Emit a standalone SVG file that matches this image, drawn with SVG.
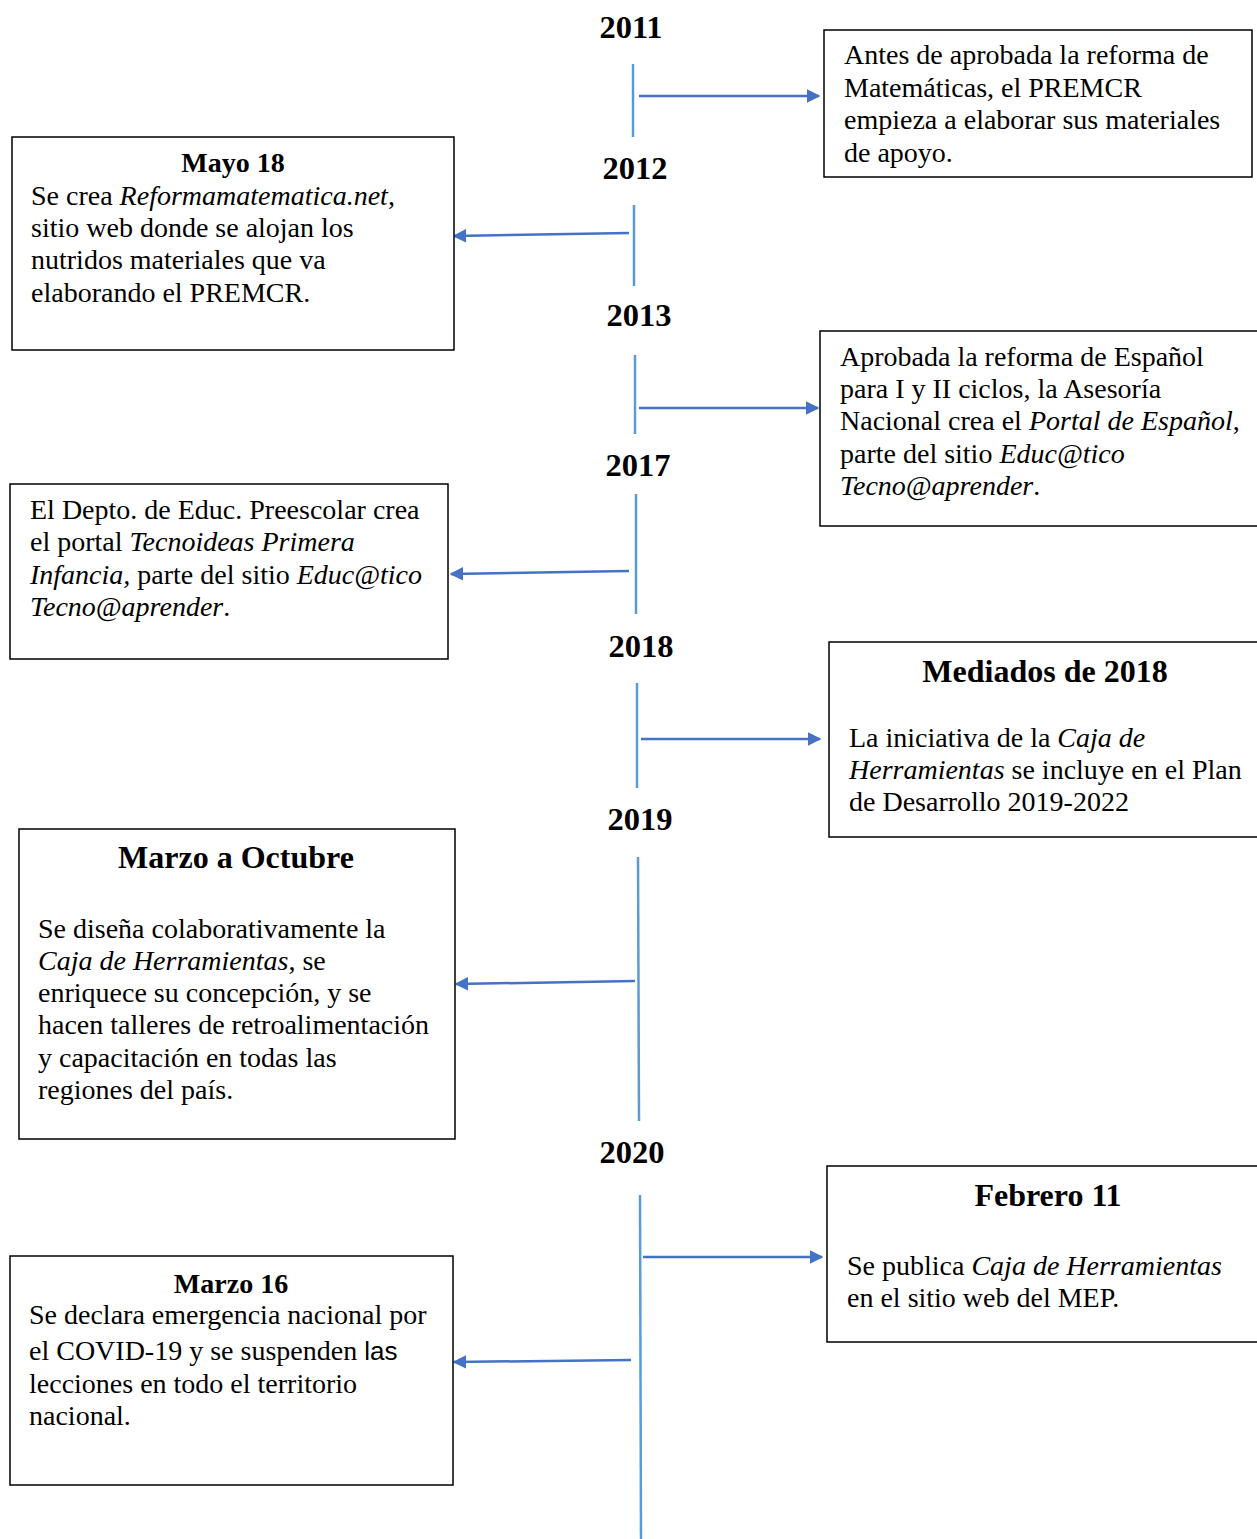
<svg xmlns="http://www.w3.org/2000/svg" width="1257" height="1539" viewBox="0 0 1257 1539">
<style>
.box{fill:#fff;stroke:#000;stroke-width:1.5}
.tl{stroke:#5B9BD5;stroke-width:2.5;fill:none}
.ar{stroke:#4472C4;stroke-width:2.5;fill:none;marker-end:url(#ah)}
.yr{font-family:"Liberation Serif",serif;font-weight:bold;font-size:32.5px;text-anchor:middle;fill:#000}
.t{font-family:"Liberation Serif",serif;font-size:28px;fill:#000}
.h{font-family:"Liberation Serif",serif;font-weight:bold;font-size:28px;text-anchor:middle;fill:#000}
.H{font-family:"Liberation Serif",serif;font-weight:bold;font-size:32px;text-anchor:middle;fill:#000}
.i{font-style:italic}
.s{font-family:"Liberation Sans",sans-serif;font-size:26px}
</style>
<defs>
<marker id="ah" viewBox="0 0 10 10" refX="9" refY="5" markerWidth="5.5" markerHeight="5.5" orient="auto" markerUnits="strokeWidth">
<path d="M0,0 L10,5 L0,10 z" fill="#4472C4"/>
</marker>
</defs>
<g id="years">
<text class="yr" x="631" y="38">2011</text>
<text class="yr" x="635" y="179">2012</text>
<text class="yr" x="639" y="326">2013</text>
<text class="yr" x="638" y="476">2017</text>
<text class="yr" x="641" y="657">2018</text>
<text class="yr" x="640" y="830">2019</text>
<text class="yr" x="632" y="1163">2020</text>
</g>
<g id="connectors">
<line class="tl" x1="633" y1="64" x2="633" y2="137"/>
<line class="tl" x1="634" y1="205" x2="634" y2="286"/>
<line class="tl" x1="635" y1="355" x2="635" y2="434"/>
<line class="tl" x1="636" y1="494" x2="636" y2="614"/>
<line class="tl" x1="637" y1="683" x2="637" y2="788"/>
<line class="tl" x1="638" y1="857" x2="639" y2="1121"/>
<line class="tl" x1="640" y1="1195" x2="641" y2="1539"/>
<line class="ar" x1="639" y1="96" x2="819" y2="96"/>
<line class="ar" x1="629" y1="233" x2="454" y2="236"/>
<line class="ar" x1="639" y1="408" x2="818" y2="408"/>
<line class="ar" x1="629" y1="571" x2="451" y2="574"/>
<line class="ar" x1="641" y1="739" x2="820" y2="739"/>
<line class="ar" x1="635" y1="981" x2="456" y2="984"/>
<line class="ar" x1="643" y1="1257" x2="822" y2="1257"/>
<line class="ar" x1="631" y1="1360" x2="454" y2="1362"/>
</g>
<g id="n2011">
<rect class="box" x="824" y="30" width="428" height="147"/>
<text class="t" x="844" y="64">Antes de aprobada la reforma de</text>
<text class="t" x="844" y="97">Matemáticas, el PREMCR</text>
<text class="t" x="844" y="129">empieza a elaborar sus materiales</text>
<text class="t" x="844" y="162">de apoyo.</text>
</g>
<g id="n2012">
<rect class="box" x="12" y="137" width="442" height="213"/>
<text class="h" x="233" y="172">Mayo 18</text>
<text class="t" x="31" y="205">Se crea <tspan class="i">Reformamatematica.net</tspan>,</text>
<text class="t" x="31" y="237">sitio web donde se alojan los</text>
<text class="t" x="31" y="269">nutridos materiales que va</text>
<text class="t" x="31" y="302">elaborando el PREMCR.</text>
</g>
<g id="n2013">
<rect class="box" x="820" y="331" width="440" height="195"/>
<text class="t" x="840" y="366">Aprobada la reforma de Español</text>
<text class="t" x="840" y="398">para I y II ciclos, la Asesoría</text>
<text class="t" x="840" y="430">Nacional crea el <tspan class="i">Portal de Español</tspan>,</text>
<text class="t" x="840" y="463">parte del sitio <tspan class="i">Educ@tico</tspan></text>
<text class="t" x="840" y="495"><tspan class="i">Tecno@aprender</tspan>.</text>
</g>
<g id="n2017">
<rect class="box" x="10" y="484" width="438" height="175"/>
<text class="t" x="30" y="519">El Depto. de Educ. Preescolar crea</text>
<text class="t" x="30" y="551">el portal <tspan class="i">Tecnoideas Primera</tspan></text>
<text class="t" x="30" y="584"><tspan class="i">Infancia,</tspan> parte del sitio <tspan class="i">Educ@tico</tspan></text>
<text class="t" x="30" y="616"><tspan class="i">Tecno@aprender</tspan>.</text>
</g>
<g id="n2018">
<rect class="box" x="829" y="642" width="431" height="195"/>
<text class="H" x="1045" y="682">Mediados de 2018</text>
<text class="t" x="849" y="747">La iniciativa de la <tspan class="i">Caja de</tspan></text>
<text class="t" x="849" y="779"><tspan class="i">Herramientas</tspan> se incluye en el Plan</text>
<text class="t" x="849" y="811">de Desarrollo 2019-2022</text>
</g>
<g id="n2019">
<rect class="box" x="19" y="829" width="436" height="310"/>
<text class="H" x="236" y="868">Marzo a Octubre</text>
<text class="t" x="38" y="938">Se diseña colaborativamente la</text>
<text class="t" x="38" y="970"><tspan class="i">Caja de Herramientas</tspan>, se</text>
<text class="t" x="38" y="1002">enriquece su concepción, y se</text>
<text class="t" x="38" y="1034">hacen talleres de retroalimentación</text>
<text class="t" x="38" y="1067">y capacitación en todas las</text>
<text class="t" x="38" y="1099">regiones del país.</text>
</g>
<g id="n2020a">
<rect class="box" x="827" y="1166" width="433" height="176"/>
<text class="H" x="1048" y="1206">Febrero 11</text>
<text class="t" x="847" y="1275">Se publica <tspan class="i">Caja de Herramientas</tspan></text>
<text class="t" x="847" y="1307">en el sitio web del MEP.</text>
</g>
<g id="n2020b">
<rect class="box" x="10" y="1256" width="443" height="229"/>
<text class="h" x="231" y="1293">Marzo 16</text>
<text class="t" x="29" y="1324">Se declara emergencia nacional por</text>
<text class="t" x="29" y="1360">el COVID-19 y se suspenden <tspan class="s">las</tspan></text>
<text class="t" x="29" y="1393">lecciones en todo el territorio</text>
<text class="t" x="29" y="1425">nacional.</text>
</g>
</svg>
